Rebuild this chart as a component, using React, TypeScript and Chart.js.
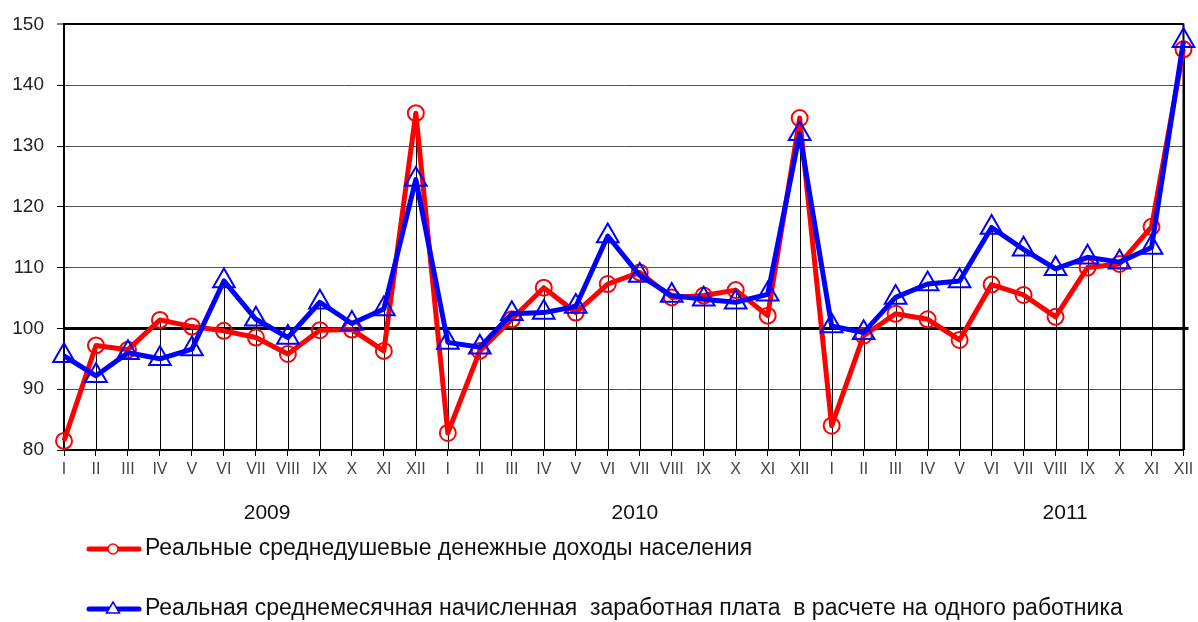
import React, { useEffect, useRef } from "react";
import { Chart, registerables } from "chart.js";

Chart.register(...registerables);

// ---- data ----
const months = ["I", "II", "III", "IV", "V", "VI", "VII", "VIII", "IX", "X", "XI", "XII"];
const years = ["2009", "2010", "2011"];
const categories = years.flatMap(() => months);

const incomeLabel = "Реальные среднедушевые денежные доходы населения";
const wageLabel = "Реальная среднемесячная начисленная  заработная плата  в расчете на одного работника";

const incomeValues = [
  81.5, 97.2, 96.5, 101.4, 100.3, 99.6, 98.5, 95.8, 99.7, 99.8, 96.3, 135.4,
  82.8, 96.3, 101.5, 106.7, 102.6, 107.3, 109.2, 105.1, 105.4, 106.3, 102.1, 134.6,
  84.0, 98.8, 102.4, 101.5, 98.1, 107.2, 105.5, 101.9, 110.0, 110.6, 116.7, 145.9,
];
const wageValues = [
  95.5, 92.2, 96.0, 95.0, 96.6, 107.8, 101.5, 98.5, 104.3, 100.8, 103.2, 124.5,
  97.7, 96.9, 102.4, 102.6, 103.6, 115.2, 108.7, 105.4, 104.8, 104.3, 105.6, 132.0,
  100.4, 99.3, 105.1, 107.3, 107.8, 116.6, 113.0, 109.8, 111.7, 110.9, 113.3, 147.3,
];

const yMin = 80;
const yMax = 150;
const yStep = 10;
const baseLine = 100;

// category-index positions where the year captions sit
const yearCaptionAt = [6.35, 17.85, 31.3];

const FONT = "'Liberation Sans', Arial, sans-serif";

const overlayPlugin = {
  id: "overlay",
  beforeDatasetsDraw(chart: any) {
    const { ctx, chartArea, scales } = chart;
    const x = scales.x;
    const y = scales.y;
    ctx.save();
    ctx.strokeStyle = "#000";
    ctx.lineWidth = 1;
    for (let i = 0; i < categories.length; i++) {
      const px = Math.round(x.getPixelForValue(i)) + 0.5;
      const top = y.getPixelForValue(Math.max(incomeValues[i], wageValues[i]));
      ctx.beginPath();
      ctx.moveTo(px, chartArea.bottom);
      ctx.lineTo(px, top);
      ctx.stroke();
    }
    // right border
    ctx.lineWidth = 2;
    ctx.beginPath();
    ctx.moveTo(chartArea.right, chartArea.top - 1);
    ctx.lineTo(chartArea.right, chartArea.bottom);
    ctx.stroke();
    // base line extension
    const yb = y.getPixelForValue(baseLine);
    ctx.lineWidth = 3;
    ctx.beginPath();
    ctx.moveTo(chartArea.left, yb);
    ctx.lineTo(chartArea.right + 5, yb);
    ctx.stroke();
    ctx.restore();
  },
  afterDraw(chart: any) {
    const { ctx, scales } = chart;
    const x = scales.x;
    ctx.save();
    // year captions
    ctx.fillStyle = "#111";
    ctx.font = `21px ${FONT}`;
    ctx.textAlign = "center";
    ctx.textBaseline = "middle";
    years.forEach((yr, i) => {
      ctx.fillText(yr, x.getPixelForValue(yearCaptionAt[i]), 513);
    });

    // legend
    const rows = [
      { label: incomeLabel, color: "#ff0000", shape: "circle", y: 549 },
      { label: wageLabel, color: "#0000ff", shape: "triangle", y: 609 },
    ];
    rows.forEach((r) => {
      ctx.strokeStyle = r.color;
      ctx.lineWidth = 5;
      ctx.lineCap = "round";
      ctx.beginPath();
      ctx.moveTo(89, r.y);
      ctx.lineTo(139, r.y);
      ctx.stroke();
      ctx.lineWidth = 1.5;
      ctx.fillStyle = "#fff";
      ctx.beginPath();
      if (r.shape === "circle") {
        ctx.arc(113, r.y, 5, 0, Math.PI * 2);
      } else {
        ctx.moveTo(113, r.y - 7);
        ctx.lineTo(119.5, r.y + 4);
        ctx.lineTo(106.5, r.y + 4);
        ctx.closePath();
      }
      ctx.fill();
      ctx.stroke();
      ctx.fillStyle = "#111";
      ctx.font = `23px ${FONT}`;
      ctx.textAlign = "left";
      ctx.textBaseline = "middle";
      ctx.fillText(r.label, 145, r.y);
    });
    ctx.restore();
  },
};

export default function App() {
  const ref = useRef<HTMLCanvasElement | null>(null);

  useEffect(() => {
    if (!ref.current) return;
    const chart = new Chart(ref.current, {
      type: "line",
      data: {
        labels: categories,
        datasets: [
          {
            label: incomeLabel,
            data: incomeValues,
            borderColor: "#ff0000",
            borderWidth: 5,
            borderJoinStyle: "round",
            pointStyle: "circle",
            pointRadius: 8,
            pointBorderWidth: 2,
            pointBorderColor: "#ff0000",
            pointBackgroundColor: "rgba(0,0,0,0)",
            tension: 0,
            order: 2,
          },
          {
            label: wageLabel,
            data: wageValues,
            borderColor: "#0000ff",
            borderWidth: 5,
            borderJoinStyle: "round",
            pointStyle: "triangle",
            pointRadius: 12.5,
            pointBorderWidth: 2,
            pointBorderColor: "#0000ff",
            pointBackgroundColor: "rgba(0,0,0,0)",
            tension: 0,
            order: 1,
          },
        ],
      },
      options: {
        animation: false,
        responsive: false,
        maintainAspectRatio: false,
        layout: { padding: { left: 0, right: 11, top: 24, bottom: 0 } },
        plugins: {
          legend: { display: false },
          tooltip: { enabled: false },
        },
        scales: {
          x: {
            type: "category",
            offset: false,
            grid: {
              drawOnChartArea: false,
              drawTicks: true,
              tickLength: 6,
              tickColor: "#000",
              tickWidth: 1,
            },
            border: { display: true, color: "#000", width: 2 },
            ticks: {
              autoSkip: false,
              maxRotation: 0,
              minRotation: 0,
              padding: 4,
              color: "#444",
              font: { family: FONT, size: 16 },
            },
            afterFit: (s: any) => {
              s.height = 172;
              s.paddingLeft = 0;
              s.paddingRight = 0;
            },
          },
          y: {
            min: yMin,
            max: yMax,
            ticks: {
              stepSize: yStep,
              padding: 13,
              color: "#222",
              font: { family: FONT, size: 19 },
            },
            grid: {
              drawTicks: true,
              tickLength: 7,
              tickColor: "#000",
              tickWidth: 1,
              color: (c: any) =>
                c.tick && (c.tick.value === yMax || c.tick.value === baseLine) ? "#000" : "#555",
              lineWidth: (c: any) =>
                c.tick && c.tick.value === baseLine ? 3 : c.tick && c.tick.value === yMax ? 2 : 1,
            },
            border: { display: true, color: "#000", width: 2 },
            afterFit: (s: any) => {
              s.width = 64;
            },
          },
        },
      },
      plugins: [overlayPlugin],
    });
    return () => chart.destroy();
  }, []);

  return (
    <div style={{ position: "fixed", left: 0, top: 0, width: 1198, height: 622, background: "#fff" }}>
      <canvas ref={ref} width={1198} height={622} style={{ width: 1198, height: 622 }} />
    </div>
  );
}
